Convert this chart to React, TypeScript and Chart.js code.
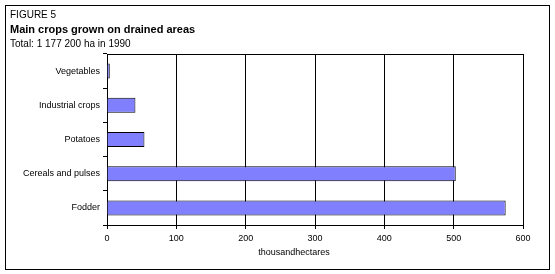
import React, { useEffect, useRef } from "react";
import { Chart, registerables } from "chart.js";

Chart.register(...registerables);

const categories = ["Vegetables", "Industrial crops", "Potatoes", "Cereals and pulses", "Fodder"];
const areaValues = [4, 41, 54, 503, 575];
const figureLabel = "FIGURE 5";
const titleText = "Main crops grown on drained areas";
const subtitleText = "Total: 1 177 200 ha in 1990";
const xAxisTitle = "thousandhectares";

const FONT = "'Liberation Sans', Arial, sans-serif";

const framePlugin = {
  id: "framePlugin",
  afterDraw(chart: any) {
    const ctx = chart.ctx;
    const { left, right, top } = chart.chartArea;
    ctx.save();
    ctx.strokeStyle = "#000";
    ctx.lineWidth = 1;
    ctx.strokeRect(5.5, 5.5, 544, 264);
    ctx.beginPath();
    ctx.moveTo(left, Math.round(top) + 0.5);
    ctx.lineTo(right, Math.round(top) + 0.5);
    ctx.stroke();
    ctx.fillStyle = "#000";
    ctx.textBaseline = "alphabetic";
    ctx.textAlign = "left";
    ctx.font = `10px ${FONT}`;
    ctx.fillText(figureLabel, 10, 18);
    ctx.font = `bold 11px ${FONT}`;
    ctx.fillText(titleText, 10, 33);
    ctx.font = `10px ${FONT}`;
    ctx.fillText(subtitleText, 10, 47);
    ctx.font = `9px ${FONT}`;
    ctx.textAlign = "center";
    ctx.textBaseline = "middle";
    ctx.fillText(xAxisTitle, 294, 253);
    ctx.restore();
  },
};

export default function App() {
  const ref = useRef<HTMLCanvasElement | null>(null);
  useEffect(() => {
    document.body.style.margin = "0";
    const chart = new Chart(ref.current as HTMLCanvasElement, {
      type: "bar",
      data: {
        labels: categories,
        datasets: [
          {
            data: areaValues,
            backgroundColor: "#8080FF",
            borderColor: "#000",
            borderWidth: 1,
            barPercentage: 0.44,
            categoryPercentage: 1,
          },
        ],
      },
      options: {
        indexAxis: "y",
        animation: false,
        responsive: false,
        layout: { padding: { top: 54, right: 32, left: 0, bottom: 9 } },
        plugins: { legend: { display: false }, tooltip: { enabled: false }, title: { display: false } },
        scales: {
          x: {
            min: 0,
            max: 600,
            ticks: { stepSize: 100, color: "#000", font: { family: FONT, size: 9 }, padding: 4 },
            grid: { color: "#000", lineWidth: 1, tickLength: 4, drawTicks: true },
            border: { display: true, color: "#000" },
            afterFit(scale: any) {
              scale.height = 40;
            },
          },
          y: {
            ticks: { color: "#000", font: { family: FONT, size: 9 }, padding: 3 },
            grid: { display: true, drawOnChartArea: false, color: "#000", tickLength: 4, offset: true },
            border: { display: true, color: "#000" },
            afterFit(scale: any) {
              scale.width = 107;
            },
          },
        },
      },
      plugins: [framePlugin],
    });
    return () => chart.destroy();
  }, []);
  return (
    <div style={{ width: 555, height: 274 }}>
      <canvas ref={ref} width={555} height={274} style={{ display: "block" }} />
    </div>
  );
}
